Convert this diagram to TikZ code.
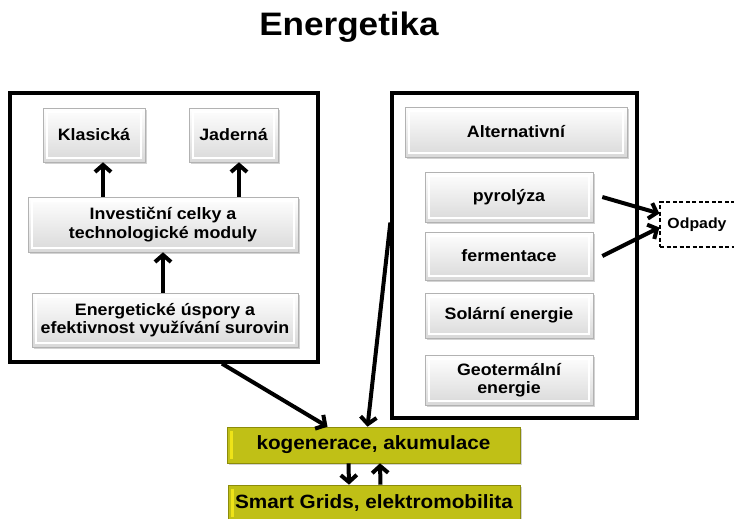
\documentclass[tikz,border=0pt]{standalone}
\usepackage{fontspec}
\setmainfont[FakeStretch=1.08]{Liberation Sans}
\usetikzlibrary{arrows.meta,shadows}
\definecolor{olivey}{RGB}{192,192,22}
\definecolor{olivedk}{RGB}{140,140,10}
\tikzset{
  gbox/.style={draw=gray!60, line width=0.6pt, top color=white, bottom color=gray!30,
    drop shadow={shadow xshift=1.5pt, shadow yshift=-2pt, opacity=0.35},
    font=\bfseries\fontsize{16.5}{18.5}\selectfont, align=center, inner sep=2pt,
    path picture={\draw[white, line width=1.2pt]
      ([xshift=4pt,yshift=-4pt]path picture bounding box.north west) rectangle
      ([xshift=-4pt,yshift=4pt]path picture bounding box.south east);}},
  ybox/.style={draw=olivedk, line width=0.6pt, fill=olivey,
    drop shadow={shadow xshift=1.5pt, shadow yshift=-2pt, opacity=0.35},
    font=\bfseries\fontsize{19.2}{21}\selectfont, inner sep=2pt,
    path picture={\fill[yellow!70!olivey]
      ([xshift=3pt,yshift=-4pt]path picture bounding box.north west) rectangle
      ([xshift=6pt,yshift=4pt]path picture bounding box.south west);}},
  frame/.style={draw=black, line width=3.3pt, inner sep=0pt},
  arr/.style={line width=4pt, -{Straight Barb[length=7pt,width=16pt]}},
  dbox/.style={draw=black, dash pattern=on 4pt off 2.5pt, line width=1.3pt, font=\bfseries\fontsize{14.7}{16}\selectfont, inner sep=2pt}
}
\begin{document}
\begin{tikzpicture}[x=1pt,y=-1pt]
\useasboundingbox (0,0) rectangle (734,519);
\node[font=\bfseries\fontsize{32.5}{36}\selectfont] (title) at (349,27) {Energetika};

\node[frame, minimum width=308pt, minimum height=269pt] (lbox) at (164,227.5) {};
\node[frame, minimum width=245pt, minimum height=325pt] (rbox) at (514.5,255.5) {};

\node[gbox, minimum width=102pt, minimum height=54pt] (klas) at (94,135) {Klasická};
\node[gbox, minimum width=89pt, minimum height=54pt] (jad) at (233.5,135) {Jaderná};
\node[gbox, minimum width=270pt, minimum height=55pt] (inv) at (163,224.5) {Investiční celky a\\technologické moduly};
\node[gbox, minimum width=266pt, minimum height=54pt] (ener) at (165,320) {Energetické úspory a\\efektivnost využívání surovin};

\node[gbox, minimum width=222pt, minimum height=50pt] (alt) at (516,132) {Alternativní};
\node[gbox, minimum width=168pt, minimum height=50pt] (pyr) at (509,197) {pyrolýza};
\node[gbox, minimum width=168pt, minimum height=48pt] (ferm) at (509,256) {fermentace};
\node[gbox, minimum width=168pt, minimum height=45pt] (sol) at (509,315.5) {Solární energie};
\node[gbox, minimum width=168pt, minimum height=50pt] (geo) at (509,380) {Geotermální\\energie};

\node[dbox, minimum width=80pt, minimum height=45pt] (odp) at (700,224.5) {\hspace*{-6pt}Odpady};

\node[ybox, minimum width=293pt, minimum height=36pt] (kog) at (373.5,445) {kogenerace, akumulace};
\node[ybox, minimum width=292pt, minimum height=36pt] (smart) at (374,503) {Smart Grids, elektromobilita};

\draw[arr] ([xshift=-60pt]inv.north) -- ([xshift=9pt]klas.south);
\draw[arr] ([xshift=76pt]inv.north) -- ([xshift=5.5pt]jad.south);
\draw[arr] ([xshift=-2pt]ener.north) -- ([xshift=0pt]inv.south);

\draw[arr] ([xshift=9pt]pyr.east) -- ([yshift=11pt]odp.west);
\draw[arr] ([xshift=9pt]ferm.east) -- ([yshift=-3pt]odp.west);

\draw[arr] ([xshift=58pt]lbox.south) -- ([xshift=-46pt]kog.north);
\draw[arr] ([yshift=33pt]rbox.west) -- ([xshift=-6pt]kog.north);

\draw[arr] ([xshift=-25pt]kog.south) -- ([xshift=-25pt]smart.north);
\draw[arr] ([xshift=6.5pt]smart.north) -- ([xshift=6.5pt]kog.south);
\end{tikzpicture}
\end{document}
